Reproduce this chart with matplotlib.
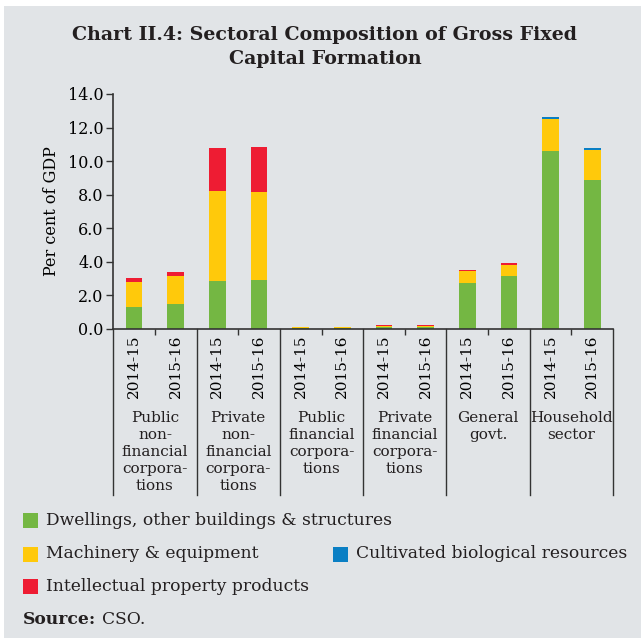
import matplotlib.pyplot as plt
from matplotlib.patches import Rectangle
from matplotlib.lines import Line2D
import numpy as np

# per cent of GDP
years = ['2014-15', '2015-16']
sectors = ['Public\nnon-\nfinancial\ncorpora-\ntions',
           'Private\nnon-\nfinancial\ncorpora-\ntions',
           'Public\nfinancial\ncorpora-\ntions',
           'Private\nfinancial\ncorpora-\ntions',
           'General\ngovt.',
           'Household\nsector']

dwellings = [1.30, 1.49, 2.87, 2.91, 0.02, 0.02, 0.08, 0.08, 2.75, 3.13, 10.62, 8.89]
machinery = [1.49, 1.65, 5.37, 5.25, 0.06, 0.06, 0.11, 0.11, 0.67, 0.69, 1.91, 1.79]
ipp = [0.23, 0.22, 2.52, 2.66, 0.01, 0.01, 0.03, 0.03, 0.10, 0.10, 0.00, 0.00]
biological = [0.00, 0.00, 0.00, 0.00, 0.00, 0.00, 0.00, 0.00, 0.00, 0.00, 0.10, 0.10]

bg = '#E1E4E7'
c_green = '#74B743'
c_yellow = '#FFC90B'
c_red = '#EE1C33'
c_blue = '#0A7FC4'

plt.rcParams['font.family'] = 'DejaVu Serif'
plt.rcParams['text.color'] = '#231F20'

fig = plt.figure(figsize=(6.41, 6.38), dpi=100)
fig.patch.set_facecolor('white')
fig.patches.append(Rectangle((4 / 641, 0), 1, 1 - 6 / 638, transform=fig.transFigure,
                             facecolor=bg, edgecolor='none', zorder=-10))

ax = fig.add_axes([113.3 / 641, 309.3 / 638, 499.7 / 641, 234.7 / 638])
ax.set_facecolor(bg)

x = np.arange(len(dwellings))
w = 0.4
d = np.array(dwellings)
m = np.array(machinery)
i = np.array(ipp)
b = np.array(biological)
ax.bar(x, d, w, color=c_green, label='Dwellings, other buildings & structures')
ax.bar(x, m, w, bottom=d, color=c_yellow, label='Machinery & equipment')
ax.bar(x, i, w, bottom=d + m, color=c_red, label='Intellectual property products')
ax.bar(x, b, w, bottom=d + m + i, color=c_blue, label='Cultivated biological resources')

ax.set_xlim(-0.5, len(x) - 0.5)
ax.set_ylim(0, 14)
ax.set_yticks(np.arange(0, 14.1, 2))
ax.set_yticklabels([f'{v:.1f}' for v in np.arange(0, 14.1, 2)], fontsize=11.5)
ax.tick_params(axis='y', length=5, width=1, color='#333333', pad=2)
ax.set_ylabel('Per cent of GDP', fontsize=11.5, labelpad=6)

ax.set_xticks(x)
ax.set_xticklabels(years * len(sectors), rotation=90, fontsize=11)
ax.tick_params(axis='x', length=0, pad=4.5)
ax.set_xticks(np.arange(0.5, len(x), 2), minor=True)
ax.tick_params(axis='x', which='minor', length=4, width=1, color='#333333')

for s in ['top', 'right']:
    ax.spines[s].set_visible(False)
for s in ['left', 'bottom']:
    ax.spines[s].set_color('#333333')
    ax.spines[s].set_linewidth(1.2)

# group separators and group names below the year labels
for k in range(len(sectors) + 1):
    xs = -0.5 + 2 * k
    ax.add_line(Line2D([xs, xs], [0, -0.71], transform=ax.get_xaxis_transform(),
                       color='#333333', lw=1, clip_on=False))
for k, name in enumerate(sectors):
    ax.text(2 * k + 0.5, -0.35, name, transform=ax.get_xaxis_transform(), ha='center', va='top',
            fontsize=11, linespacing=1.27)

fig.text(0.507, 0.959, 'Chart II.4: Sectoral Composition of Gross Fixed\nCapital Formation',
         ha='center', va='top', fontsize=13.7, fontweight='bold', linespacing=1.45)

# legend laid out by hand like the original
handles, labels = ax.get_legend_handles_labels()
order = [0, 1, 3, 2]
slots = [(23, 520.5), (23, 554), (333, 554), (23, 586.5)]
for j, (hx, hy) in zip(order, slots):
    fig.patches.append(Rectangle((hx / 641, 1 - (hy + 7.5) / 638), 15 / 641, 15 / 638,
                                 transform=fig.transFigure,
                                 facecolor=handles[j].patches[0].get_facecolor(),
                                 edgecolor='none'))
    fig.text((hx + 23) / 641, 1 - hy / 638, labels[j], ha='left', va='center', fontsize=12.3)

src = fig.text(23 / 641, 1 - 620 / 638, 'Source:', ha='left', va='center', fontsize=12.3,
               fontweight='bold')
fig.canvas.draw()
bb = src.get_window_extent()
fig.text((bb.x1 + 6) / 641, 1 - 620 / 638, 'CSO.', ha='left', va='center', fontsize=12.3)

fig.savefig('out.png', dpi=100, facecolor=fig.get_facecolor())
